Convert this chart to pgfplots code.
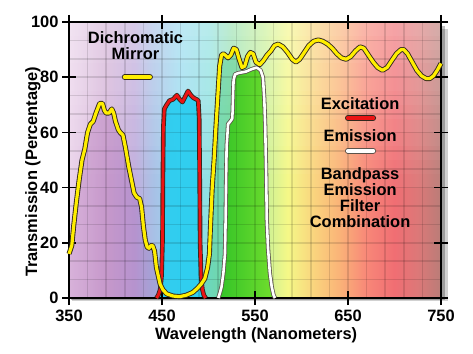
\documentclass[border=0pt]{standalone}
\usepackage{fontspec}
\setmainfont{Liberation Sans}
\usepackage{pgfplots}
\pgfplotsset{compat=1.18}
\usepackage{pgfplotstable}

\definecolor{s01}{RGB}{235,212,235}
\definecolor{s02}{RGB}{212,178,215}
\definecolor{s03}{RGB}{192,172,220}
\definecolor{s04}{RGB}{168,192,230}
\definecolor{s05}{RGB}{152,220,240}
\definecolor{s06}{RGB}{142,225,225}
\definecolor{s07}{RGB}{152,225,175}
\definecolor{s08}{RGB}{200,240,150}
\definecolor{s09}{RGB}{245,248,135}
\definecolor{s10}{RGB}{250,210,125}
\definecolor{s11}{RGB}{250,180,120}
\definecolor{s12}{RGB}{248,135,120}
\definecolor{s13}{RGB}{240,110,115}
\definecolor{s14}{RGB}{220,120,120}
\definecolor{s15}{RGB}{185,125,120}
\pgfdeclarehorizontalshading{spectrum}{100bp}{color(0bp)=(s01); color(25bp)=(s01); color(30bp)=(s02); color(33.75bp)=(s03); color(36.25bp)=(s04); color(40bp)=(s05); color(43.75bp)=(s06); color(46.9bp)=(s07); color(51.25bp)=(s08); color(54.4bp)=(s09); color(58.1bp)=(s10); color(61.25bp)=(s11); color(65bp)=(s12); color(68.75bp)=(s13); color(71.9bp)=(s14); color(75bp)=(s15); color(100bp)=(s15)}

\definecolor{yel}{RGB}{255,238,0}
\definecolor{redc}{RGB}{235,20,20}
\definecolor{outl}{RGB}{50,40,30}
\definecolor{purp}{RGB}{150,60,160}
\definecolor{teal2}{RGB}{60,200,130}
\definecolor{cyanf}{RGB}{40,205,240}
\definecolor{grn1}{RGB}{50,195,40}
\definecolor{grn2}{RGB}{115,222,45}

\pgfplotstableread{
x y
350 16
353 19
355 26
358 35
361 43
364 50
367 54
370 60
373 63
376 64
379 67
383 70.5
386 70.5
388 68
390 67
393 67
396 68.5
398 67
400 64
403 61
405 60
408 59
411 54
414 48
417 43
420 38
423 36.5
426 36
428 33
430 26
432 21
434 18.5
436 18
438 19
440 19
442 17
444 11
446 8
448 5
451 3
455 1.5
462 0.7
469 0.5
476 1
483 2
488 3.5
492 5
496 7
499 11
501 16
502 25
504 40
506 50
508 62
510 73
512 84
514 88
516 88.5
518 88
521 87
524 88
527 90.5
530 90
533 86.5
536 83.5
539 84
542 87.5
545 89
548 88.5
551 85.5
555 84.5
559 86
563 88
567 89.5
571 91.5
575 92
580 91
585 89
590 86.5
594 85.5
598 86.5
603 89
608 91.5
613 93
618 93.5
623 93
628 92
633 90.5
638 88.5
643 87
648 86.5
653 87.5
658 89.5
663 91
667 90.5
672 88
677 85.5
682 83.5
687 82.5
692 83.5
697 86
702 88.5
707 90
710 90
714 88.5
719 85.5
724 82.5
729 80.5
734 79.5
738 79.5
742 80.5
746 82.5
750 85
}\mirror

\pgfplotstableread{
x y
444 0
446 1
448 3
449.5 8
450.5 20
451 45
451.5 62
452.5 68.5
455 70
458 71.5
462 72
466 73.5
469 72
472 71
475 73
478 75
481 73.5
484 72.5
487 72
489 71.5
490 65
490.5 45
491 20
492 8
493.5 3
495 1
497 0
}\excitation

\pgfplotstableread{
x y
510.5 0
512 1.5
514 4
516 9
517.7 16
518.5 30
519 45
519.5 55
520.5 60
521 63
523.5 64
525.5 65
526 68
526.5 75
527 79
528.5 81
532 81.5
540 82
547 83
552 83.5
556 82.5
558.5 80
560 72
561 62
562 45
562.7 28
564 18
566 9
568 4
570 1
571.5 0
}\emission

\begin{document}
\begin{tikzpicture}
\begin{axis}[name=ax, set layers, scale only axis,
  width=372bp, height=276bp,
  xmin=350, xmax=750, ymin=0, ymax=100, clip=false,
  xtick={350,450,550,650,750}, ytick={0,20,...,100},
  minor x tick num=4, minor y tick num=2,
  grid=both, grid style={black, opacity=0.12, line width=1.6bp},
  minor tick length=0pt, major tick length=14bp, tick align=center,
  tick style={black, line width=1.6bp},
  axis line style={black, line width=2.4bp},
  ticklabel style={font=\fontsize{16.5}{18}\selectfont\bfseries},
  xticklabel style={yshift=-2bp},
  /pgf/number format/assume math mode=true,
  xlabel={Wavelength (Nanometers)}, ylabel={Transmission (Percentage)},
  label style={font=\fontsize{16.5}{18}\selectfont\bfseries},
  xlabel style={at={(axis description cs:0.503,-0.134)}, anchor=center},
  ylabel style={at={(axis description cs:-0.097,0.457)}, anchor=center},
]
\begin{pgfonlayer}{axis background}
\fill[black, opacity=0.18] ([xshift=3bp,yshift=-3bp]axis cs:350,0) rectangle ([xshift=7bp,yshift=-7bp]axis cs:750,100);
\fill[black, opacity=0.25] ([xshift=2bp,yshift=-2bp]axis cs:350,0) rectangle ([xshift=4bp,yshift=-4bp]axis cs:750,100);
\shade[shading=spectrum] (axis cs:350,0) rectangle (axis cs:750,100);
\fill[white, opacity=0.03] (axis cs:350,40) rectangle (axis cs:750,45);
\fill[white, opacity=0.06] (axis cs:350,45) rectangle (axis cs:750,50);
\fill[white, opacity=0.09] (axis cs:350,50) rectangle (axis cs:750,55);
\fill[white, opacity=0.12] (axis cs:350,55) rectangle (axis cs:750,60);
\fill[white, opacity=0.15] (axis cs:350,60) rectangle (axis cs:750,65);
\fill[white, opacity=0.18] (axis cs:350,65) rectangle (axis cs:750,70);
\fill[white, opacity=0.21] (axis cs:350,70) rectangle (axis cs:750,75);
\fill[white, opacity=0.24] (axis cs:350,75) rectangle (axis cs:750,80);
\fill[white, opacity=0.27] (axis cs:350,80) rectangle (axis cs:750,85);
\fill[white, opacity=0.30] (axis cs:350,85) rectangle (axis cs:750,90);
\fill[white, opacity=0.33] (axis cs:350,90) rectangle (axis cs:750,95);
\fill[white, opacity=0.36] (axis cs:350,95) rectangle (axis cs:750,100);
\end{pgfonlayer}

\addplot[on layer=axis background, draw=none, fill=purp, fill opacity=0.22, restrict x to domain=350:447] table {\mirror} \closedcycle;
\addplot[on layer=axis background, draw=none, fill=teal2, fill opacity=0.4, restrict x to domain=494:545] table {\mirror} \closedcycle;
\addplot[on layer=axis background, draw=none, fill=cyanf, fill opacity=0.92] table {\excitation} \closedcycle;
\addplot[on layer=axis background, draw=none, left color=grn1, right color=grn2] table {\emission} \closedcycle;

\addplot[outl, line width=4.6bp, line join=round] table {\excitation};
\addplot[redc, line width=2.8bp, line join=round] table {\excitation};
\addplot[outl!80, line width=4.2bp, line join=round] table {\emission};
\addplot[white, line width=2.6bp, line join=round] table {\emission};
\addplot[outl, line width=5bp, line join=round] table {\mirror};
\addplot[yel, line width=3.2bp, line join=round] table {\mirror};

\draw[outl, line width=6bp, line cap=round] (axis cs:410,80) -- (axis cs:437,80);
\draw[yel, line width=4.2bp, line cap=round] (axis cs:410,80) -- (axis cs:437,80);
\draw[outl, line width=6bp, line cap=round] (axis cs:650,65.2) -- (axis cs:677,65.2);
\draw[redc, line width=4.2bp, line cap=round] (axis cs:650,65.2) -- (axis cs:677,65.2);
\draw[outl!80, line width=6bp, line cap=round] (axis cs:650,53.3) -- (axis cs:677,53.3);
\draw[white, line width=4.2bp, line cap=round] (axis cs:650,53.3) -- (axis cs:677,53.3);

\node[font=\fontsize{16.5}{16}\selectfont\bfseries, align=center] at (axis cs:421.5,91.5) {Dichromatic\\Mirror};
\node[font=\fontsize{16.5}{16}\selectfont\bfseries] at (axis cs:663,70.3) {Excitation};
\node[font=\fontsize{16.5}{16}\selectfont\bfseries] at (axis cs:663,58.7) {Emission};
\node[font=\fontsize{16.5}{16}\selectfont\bfseries, align=center] at (axis cs:663,36.3) {Bandpass\\Emission\\Filter\\Combination};
\end{axis}
\path ([shift={(-69bp,-56bp)}]ax.south west) rectangle ([shift={(32bp,22bp)}]ax.north east);
\end{tikzpicture}
\end{document}
